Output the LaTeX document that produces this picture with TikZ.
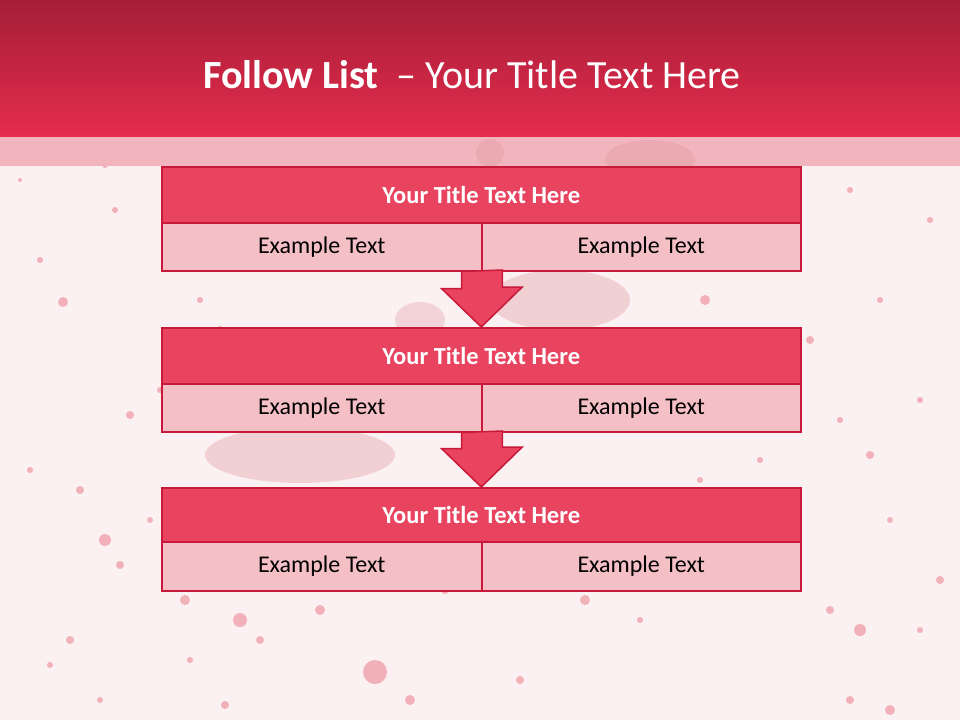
\documentclass[tikz,border=0pt]{standalone}
\usepackage{fontspec}
\setmainfont{Carlito}
\definecolor{bgpink}{HTML}{FBF0F2}
\definecolor{bandpink}{HTML}{F2B5BD}
\definecolor{hdtop}{HTML}{A51E36}
\definecolor{hdbot}{HTML}{E52C4E}
\definecolor{titlefill}{HTML}{E8435F}
\definecolor{rowfill}{HTML}{F5C0C5}
\definecolor{edge}{HTML}{C8193A}
\definecolor{splat}{HTML}{F2B0B9}
\definecolor{splatdark}{HTML}{E4A0A8}
\tikzset{
  titlebox/.style={draw=edge, line width=1.5pt, fill=titlefill, text=white, font=\fontsize{24.5}{28}\selectfont\bfseries},
  rowbox/.style={draw=edge, line width=1.5pt, fill=rowfill, text=black, font=\fontsize{24}{28}\selectfont},
  downarrow/.style={draw=edge, line width=1.5pt, fill=titlefill, line join=miter},
  dot/.style={fill=splat, draw=none}
}
\begin{document}
\begin{tikzpicture}[x=1pt,y=-1pt]
\useasboundingbox (0,0) rectangle (960,720);
\fill[bgpink] (0,0) rectangle (960,720);
% faint splatter blobs
\fill[splatdark, opacity=0.45] (610,150) ellipse (55 and 25);
\fill[splatdark, opacity=0.4] (560,300) ellipse (70 and 30);
\fill[splatdark, opacity=0.4] (300,455) ellipse (95 and 28);
\fill[splatdark, opacity=0.35] (420,320) ellipse (25 and 18);
\foreach \x/\y/\r in {63/302/5,80/490/4,105/540/6,120/565/4,150/520/3,185/600/5,240/620/7,260/640/4,320/610/5,375/672/12,410/700/5,445/590/4,520/680/4,585/600/5,640/620/3,705/300/5,720/330/3,750/250/4,780/540/5,830/610/4,860/630/6,890/710/5,940/580/4,920/630/3,30/470/3,130/415/4,160/390/3,70/640/4,50/665/3,870/455/4,840/420/3,810/340/4,890/520/3,920/400/3,200/300/3,220/330/4,640/340/3,660/380/4,700/480/3,740/500/4,760/460/3,115/210/3,105/165/3,850/190/3,880/300/3,930/220/3,20/180/2,40/260/3,850/700/4,600/500/3,225/705/4,190/660/3,100/700/3}
  \fill[dot] (\x,\y) circle (\r);
% header
\shade[top color=hdtop, bottom color=hdbot] (0,0) rectangle (960,137);
\fill[bandpink] (0,137) rectangle (960,166);
\fill[splatdark, opacity=0.5] (490,153) circle (14);
\fill[splatdark, opacity=0.5] (650,160) ellipse (45 and 20);
\node (title) at (472,75) {\fontsize{40}{46}\selectfont\color{white}\textbf{Follow List}\ \ – Your Title Text Here};
% group 1
\node[titlebox, minimum width=639pt, minimum height=56pt, anchor=north west] (t1) at (161,166) {Your Title Text Here};
\node[rowbox, minimum width=320pt, minimum height=48pt, anchor=north west] (a1) at (161,222) {Example Text};
\node[rowbox, minimum width=319pt, minimum height=48pt, anchor=north west] (b1) at (481,222) {Example Text};
% group 2
\node[titlebox, minimum width=639pt, minimum height=56pt, anchor=north west] (t2) at (161,327) {Your Title Text Here};
\node[rowbox, minimum width=320pt, minimum height=48pt, anchor=north west] (a2) at (161,383) {Example Text};
\node[rowbox, minimum width=319pt, minimum height=48pt, anchor=north west] (b2) at (481,383) {Example Text};
% group 3
\node[titlebox, minimum width=639pt, minimum height=54pt, anchor=north west] (t3) at (161,487) {Your Title Text Here};
\node[rowbox, minimum width=320pt, minimum height=49pt, anchor=north west] (a3) at (161,541) {Example Text};
\node[rowbox, minimum width=319pt, minimum height=49pt, anchor=north west] (b3) at (481,541) {Example Text};
% arrows
\draw[downarrow] (a1.south east) ++(-21,0) -- ++(0,17) -- ++(-20,0) -- (t2.north) -- ++(41,-40) -- ++(-20,0) -- ++(0,-17) -- cycle;
\draw[downarrow] (a2.south east) ++(-21,0) -- ++(0,16) -- ++(-20,0) -- (t3.north) -- ++(41,-40) -- ++(-20,0) -- ++(0,-16) -- cycle;
\end{tikzpicture}
\end{document}
